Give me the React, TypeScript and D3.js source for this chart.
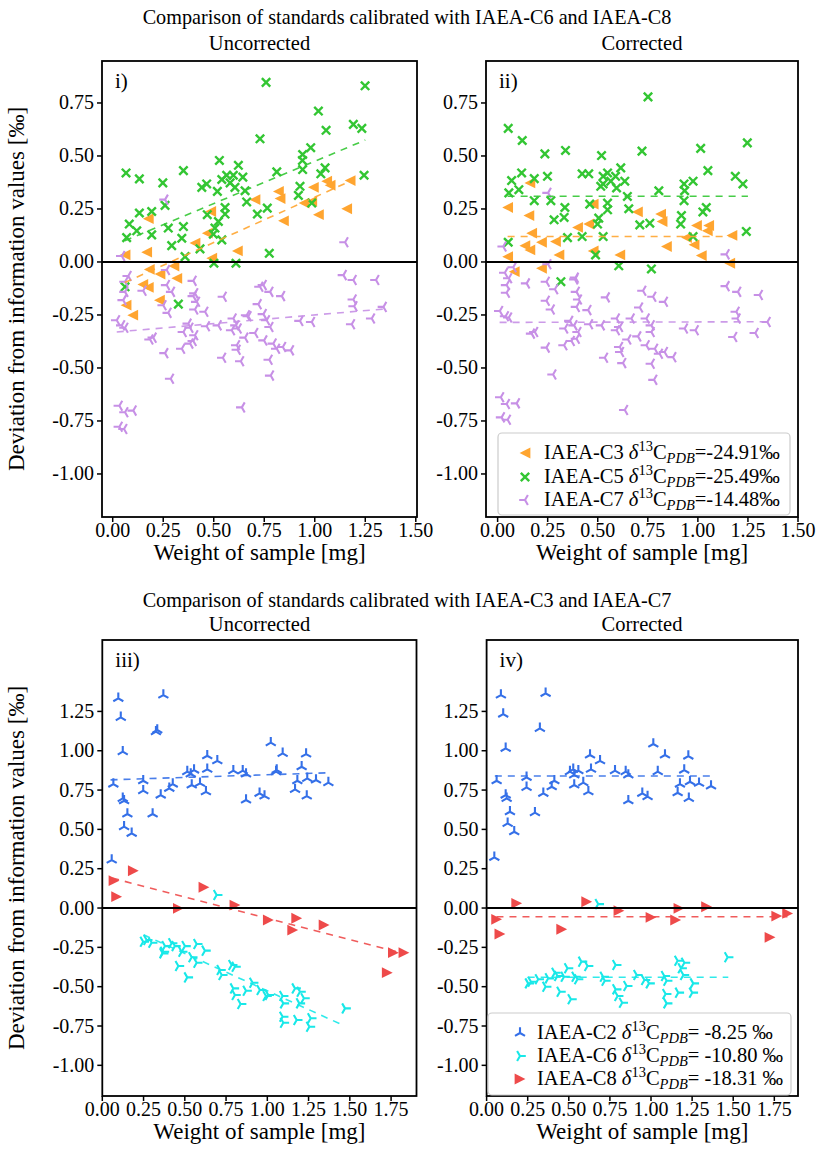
import * as d3 from 'd3';

const W = 817, H = 1157;
const FONT = '"Liberation Serif", "Times New Roman", serif';

type Pt = [number, number];

// ---------- upper row: standards calibrated with IAEA-C6 and IAEA-C8 ----------
const c3Uncorr: Pt[] = [
  [0.061, 0.033], [0.168, 0.046], [0.176, 0.204], [0.407, 0.089], [0.468, 0.136], [0.485, 0.238],
  [0.490, 0.018], [0.617, 0.052], [0.704, 0.294], [0.820, 0.333], [0.828, 0.299], [0.845, 0.194],
  [0.947, 0.278], [0.985, 0.286], [0.993, 0.352], [1.018, 0.223], [1.059, 0.381], [1.076, 0.362],
  [1.158, 0.251], [1.175, 0.384], [0.181, -0.035], [0.303, -0.019], [0.234, -0.057], [0.317, -0.077],
  [0.149, -0.106], [0.176, -0.120], [0.231, -0.180], [0.066, -0.204], [0.099, -0.251],
];
const c5Uncorr: Pt[] = [
  [0.759, 0.847], [1.249, 0.831], [1.018, 0.712], [1.056, 0.621], [1.191, 0.649], [1.233, 0.630],
  [0.729, 0.581], [0.940, 0.507], [0.980, 0.539], [0.939, 0.479], [0.940, 0.436], [1.051, 0.444],
  [1.030, 0.416], [1.244, 0.409], [0.812, 0.425], [0.066, 0.420], [0.132, 0.392], [0.248, 0.373],
  [0.350, 0.431], [0.528, 0.479], [0.622, 0.456], [0.441, 0.352], [0.465, 0.368], [0.540, 0.389],
  [0.564, 0.409], [0.597, 0.409], [0.644, 0.400], [0.581, 0.373], [0.518, 0.333], [0.655, 0.336],
  [0.605, 0.352], [0.663, 0.283], [0.556, 0.257], [0.556, 0.226], [0.765, 0.254], [0.716, 0.226],
  [0.927, 0.357], [0.919, 0.314], [0.985, 0.278], [0.259, 0.267], [0.132, 0.231], [0.193, 0.238],
  [0.082, 0.179], [0.119, 0.147], [0.069, 0.115], [0.193, 0.128], [0.275, 0.160], [0.350, 0.167],
  [0.342, 0.112], [0.292, 0.077], [0.468, 0.223], [0.523, 0.191], [0.506, 0.160], [0.540, 0.104],
  [0.498, 0.131], [0.432, 0.062], [0.358, 0.025], [0.501, -0.006], [0.610, -0.006], [0.775, 0.041],
  [0.325, -0.199], [0.061, -0.117],
];
const c7Uncorr: Pt[] = [
  [0.045, 0.028], [0.259, 0.294], [1.150, 0.093], [1.142, -0.062], [1.191, -0.085], [1.303, -0.085],
  [0.077, -0.066], [0.061, -0.093], [0.061, -0.141], [0.052, -0.180], [0.267, -0.038], [0.267, -0.109],
  [0.292, -0.141], [0.151, -0.136], [0.250, -0.204], [0.275, -0.240], [0.399, -0.089], [0.407, -0.148],
  [0.399, -0.161], [0.416, -0.188], [0.407, -0.224], [0.457, -0.235], [0.548, -0.164], [0.729, -0.117],
  [0.779, -0.141], [0.837, -0.161], [0.721, -0.199], [0.746, -0.246], [0.762, -0.275], [0.779, -0.307],
  [0.671, -0.256], [0.597, -0.267], [0.610, -0.299], [0.589, -0.322], [0.622, -0.314], [0.523, -0.299],
  [0.465, -0.303], [0.374, -0.291], [0.383, -0.310], [0.350, -0.330], [0.407, -0.346], [0.399, -0.373],
  [0.383, -0.385], [0.342, -0.409], [0.201, -0.357], [0.185, -0.366], [0.259, -0.430], [0.020, -0.275],
  [0.045, -0.299], [0.061, -0.310], [0.655, -0.357], [0.704, -0.335], [0.749, -0.370], [0.795, -0.385],
  [0.812, -0.409], [0.842, -0.401], [0.881, -0.417], [0.614, -0.393], [0.617, -0.414], [0.545, -0.452],
  [0.634, -0.468], [0.775, -0.461], [0.782, -0.536], [0.287, -0.551], [0.927, -0.278], [0.985, -0.283],
  [1.191, -0.177], [1.195, -0.209], [1.183, -0.294], [1.282, -0.267], [1.340, -0.212], [0.033, -0.678],
  [0.061, -0.709], [0.102, -0.701], [0.033, -0.777], [0.056, -0.788], [0.639, -0.686], [0.663, -0.251],
  [0.746, -0.109],
];
const c3Corr: Pt[] = [
  [0.050, 0.257], [0.161, 0.373], [0.156, 0.219], [0.170, 0.136], [0.136, 0.077], [0.161, 0.057],
  [0.219, 0.093], [0.289, 0.096], [0.306, 0.033], [0.050, 0.025], [0.399, 0.163], [0.455, 0.179],
  [0.477, 0.273], [0.477, 0.052], [0.610, 0.033], [0.698, 0.236], [0.814, 0.226], [0.821, 0.191],
  [0.843, 0.073], [0.943, 0.115], [0.981, 0.081], [0.993, 0.172], [1.054, 0.172], [1.047, 0.147],
  [1.017, 0.030], [1.170, 0.125], [1.159, -0.006], [0.083, -0.046], [0.219, -0.030],
];
const c5Corr: Pt[] = [
  [0.751, 0.779], [0.053, 0.630], [0.123, 0.573], [0.236, 0.510], [0.339, 0.526], [0.519, 0.502],
  [0.721, 0.523], [1.014, 0.536], [1.247, 0.562], [1.050, 0.431], [1.187, 0.404], [1.225, 0.368],
  [0.070, 0.384], [0.120, 0.420], [0.056, 0.326], [0.106, 0.341], [0.183, 0.393], [0.249, 0.404],
  [0.183, 0.289], [0.266, 0.289], [0.422, 0.416], [0.455, 0.416], [0.527, 0.404], [0.549, 0.420],
  [0.527, 0.368], [0.565, 0.381], [0.589, 0.404], [0.615, 0.444], [0.635, 0.381], [0.515, 0.357],
  [0.594, 0.349], [0.648, 0.309], [0.805, 0.336], [0.931, 0.368], [0.976, 0.381], [0.934, 0.336],
  [0.931, 0.289], [1.042, 0.257], [1.025, 0.236], [0.918, 0.219], [0.914, 0.179], [1.242, 0.144],
  [0.460, 0.273], [0.336, 0.257], [0.332, 0.210], [0.282, 0.199], [0.549, 0.278], [0.549, 0.246],
  [0.505, 0.207], [0.499, 0.179], [0.655, 0.251], [0.710, 0.175], [0.760, 0.183], [0.349, 0.115],
  [0.422, 0.120], [0.527, 0.120], [0.976, 0.120], [0.053, 0.093], [0.489, 0.033], [0.605, -0.018],
  [0.768, -0.033], [0.316, -0.093],
];
const c7Corr: Pt[] = [
  [0.028, 0.073], [0.252, 0.326], [1.142, 0.036], [0.252, -0.011], [0.389, -0.074], [0.078, -0.025],
  [0.036, -0.051], [0.056, -0.077], [0.045, -0.109], [0.045, -0.145], [0.145, -0.101], [0.244, -0.093],
  [0.286, -0.129], [0.244, -0.183], [0.269, -0.224], [0.386, -0.082], [0.394, -0.141], [0.405, -0.177],
  [0.394, -0.212], [0.452, -0.227], [0.544, -0.167], [0.011, -0.231], [0.040, -0.256], [0.056, -0.262],
  [0.726, -0.136], [0.776, -0.164], [0.834, -0.188], [0.710, -0.215], [0.743, -0.267], [0.768, -0.299],
  [0.768, -0.330], [0.668, -0.267], [0.594, -0.267], [0.610, -0.307], [0.594, -0.322], [0.519, -0.299],
  [0.460, -0.294], [0.361, -0.278], [0.382, -0.299], [0.336, -0.314], [0.402, -0.330], [0.394, -0.362],
  [0.369, -0.373], [0.332, -0.393], [0.186, -0.330], [0.170, -0.338], [0.244, -0.404], [0.651, -0.366],
  [0.701, -0.351], [0.743, -0.393], [0.785, -0.409], [0.809, -0.433], [0.834, -0.425], [0.876, -0.449],
  [0.610, -0.401], [0.615, -0.425], [0.535, -0.452], [0.626, -0.477], [0.768, -0.480], [0.781, -0.556],
  [0.277, -0.531], [0.934, -0.314], [0.988, -0.322], [1.142, -0.114], [1.200, -0.141], [1.308, -0.156],
  [1.192, -0.235], [1.197, -0.267], [1.180, -0.354], [1.287, -0.335], [1.347, -0.283], [0.016, -0.638],
  [0.045, -0.670], [0.095, -0.667], [0.020, -0.733], [0.050, -0.744], [0.635, -0.698],
];
// dashed fit lines, end points
const fitC3Uncorr: Pt[] = [[0.06, -0.097], [1.18, 0.383]];
const fitC5Uncorr: Pt[] = [[0.06, 0.10], [1.25, 0.575]];
const fitC7Uncorr: Pt[] = [[0.02, -0.33], [1.34, -0.222]];
const fitC3Corr: Pt[] = [[0.05, 0.12], [1.17, 0.12]];
const fitC5Corr: Pt[] = [[0.05, 0.31], [1.25, 0.31]];
const fitC7Corr: Pt[] = [[0.01, -0.285], [1.35, -0.282]];

// ---------- lower row: standards calibrated with IAEA-C3 and IAEA-C7 ----------
const c2Uncorr: Pt[] = [
  [0.097, 1.333], [0.370, 1.354], [0.112, 1.212], [0.333, 1.132], [0.325, 1.121], [0.124, 0.994],
  [1.021, 1.051], [1.093, 0.983], [1.235, 0.979], [0.636, 0.968], [0.697, 0.936], [0.636, 0.882],
  [0.515, 0.867], [0.556, 0.877], [0.536, 0.852], [0.794, 0.873], [0.851, 0.873], [0.871, 0.852],
  [1.057, 0.877], [1.208, 0.898], [0.067, 0.788], [0.248, 0.809], [0.248, 0.746], [0.427, 0.788],
  [0.406, 0.761], [0.542, 0.782], [0.592, 0.793], [0.628, 0.739], [0.124, 0.697], [0.132, 0.682],
  [0.354, 0.718], [0.152, 0.598], [0.305, 0.598], [0.132, 0.517], [0.178, 0.475], [0.057, 0.305],
  [0.871, 0.687], [0.953, 0.729], [0.983, 0.712], [1.182, 0.809], [1.168, 0.754], [1.242, 0.824],
  [1.295, 0.814], [1.370, 0.797], [1.239, 0.712], [1.053, 0.867],
];
const c6Uncorr: Pt[] = [
  [0.693, 0.083], [0.269, -0.203], [0.299, -0.221], [0.248, -0.214], [0.380, -0.242], [0.420, -0.224],
  [0.440, -0.242], [0.370, -0.278], [0.501, -0.242], [0.481, -0.278], [0.572, -0.229], [0.622, -0.271],
  [0.542, -0.313], [0.572, -0.348], [0.461, -0.369], [0.515, -0.441], [0.713, -0.394], [0.784, -0.362],
  [0.804, -0.373], [0.724, -0.426], [0.794, -0.511], [0.804, -0.553], [0.838, -0.610], [0.871, -0.526],
  [0.911, -0.475], [0.955, -0.521], [0.992, -0.559], [1.006, -0.553], [1.093, -0.559], [1.097, -0.606],
  [1.168, -0.511], [1.198, -0.532], [1.222, -0.574], [1.194, -0.606], [1.093, -0.691], [1.097, -0.729],
  [1.178, -0.712], [1.263, -0.701], [1.255, -0.755], [1.471, -0.638], [0.366, -0.288],
];
const c8Uncorr: Pt[] = [
  [0.188, 0.237], [0.071, 0.174], [0.087, 0.072], [0.616, 0.132], [0.461, -0.002], [0.804, 0.019],
  [1.006, -0.076], [1.178, -0.065], [1.154, -0.140], [1.344, -0.108], [1.764, -0.284], [1.828, -0.284],
  [1.727, -0.411],
];
const c2Corr: Pt[] = [
  [0.087, 1.354], [0.359, 1.365], [0.101, 1.233], [0.324, 1.142], [0.116, 1.015], [1.014, 1.043],
  [1.085, 0.973], [1.227, 0.966], [0.629, 0.973], [0.690, 0.936], [0.635, 0.882], [0.507, 0.867],
  [0.527, 0.882], [0.558, 0.873], [0.533, 0.846], [0.781, 0.873], [0.846, 0.867], [0.862, 0.846],
  [1.041, 0.867], [1.202, 0.877], [0.061, 0.809], [0.243, 0.831], [0.243, 0.767], [0.412, 0.809],
  [0.396, 0.771], [0.533, 0.782], [0.588, 0.797], [0.619, 0.739], [0.116, 0.718], [0.122, 0.697],
  [0.345, 0.729], [0.142, 0.612], [0.294, 0.606], [0.128, 0.538], [0.168, 0.485], [0.047, 0.322],
  [0.862, 0.682], [0.947, 0.729], [0.979, 0.708], [1.176, 0.788], [1.162, 0.733], [1.237, 0.803],
  [1.292, 0.793], [1.365, 0.776], [1.230, 0.697],
];
const c6Corr: Pt[] = [
  [0.679, 0.025], [0.270, -0.469], [0.253, -0.479], [0.359, -0.500], [0.375, -0.447], [0.415, -0.411],
  [0.431, -0.432], [0.492, -0.383], [0.471, -0.437], [0.577, -0.341], [0.614, -0.369], [0.537, -0.437],
  [0.553, -0.453], [0.446, -0.532], [0.513, -0.580], [0.785, -0.362], [0.709, -0.437], [0.719, -0.462],
  [0.785, -0.517], [0.797, -0.559], [0.825, -0.602], [0.852, -0.496], [0.913, -0.426], [0.960, -0.458],
  [0.988, -0.479], [1.081, -0.432], [1.095, -0.462], [1.089, -0.547], [1.095, -0.606], [1.162, -0.335],
  [1.203, -0.348], [1.183, -0.383], [1.197, -0.426], [1.257, -0.479], [1.251, -0.538], [1.166, -0.538],
  [1.466, -0.313], [0.314, -0.453],
];
const c8Corr: Pt[] = [
  [0.183, 0.030], [0.061, -0.072], [0.081, -0.165], [0.609, 0.040], [0.457, -0.135], [0.805, -0.017],
  [1.000, -0.059], [1.170, -0.002], [1.150, -0.076], [1.338, 0.008], [1.765, -0.051], [1.831, -0.034],
  [1.724, -0.186],
];
const fitC2Uncorr: Pt[] = [[0.05, 0.815], [1.37, 0.86]];
const fitC6Uncorr: Pt[] = [[0.25, -0.17], [1.47, -0.75]];
const fitC8Uncorr: Pt[] = [[0.06, 0.19], [1.83, -0.29]];
const fitC2Corr: Pt[] = [[0.05, 0.839], [1.37, 0.839]];
const fitC6Corr: Pt[] = [[0.25, -0.44], [1.47, -0.44]];
const fitC8Corr: Pt[] = [[0.06, -0.055], [1.83, -0.055]];

const topYTicks = [-1, -0.75, -0.5, -0.25, 0, 0.25, 0.5, 0.75];
const botYTicks = [-1, -0.75, -0.5, -0.25, 0, 0.25, 0.5, 0.75, 1, 1.25];
const topXTicks = [0, 0.25, 0.5, 0.75, 1, 1.25, 1.5];
const botXTicks = [0, 0.25, 0.5, 0.75, 1, 1.25, 1.5, 1.75];

const topLegend = [
  { name: 'IAEA-C3', value: '=-24.91\u2030' },
  { name: 'IAEA-C5', value: '=-25.49\u2030' },
  { name: 'IAEA-C7', value: '=-14.48\u2030' },
];
const botLegend = [
  { name: 'IAEA-C2', value: '= -8.25 \u2030' },
  { name: 'IAEA-C6', value: '= -10.80 \u2030' },
  { name: 'IAEA-C8', value: '= -18.31 \u2030' },
];

const ORANGE = '#ffa530', GREEN = '#33c633', PURPLE = '#c790e6';
const BLUE = '#3570e8', CYAN = '#18e8e8', RED = '#ee4a4a';

type Kind = 'triL' | 'triR' | 'x' | 'y2' | 'y3' | 'y4';

function markerPath(kind: Kind) {
  const r = 5.4, a = 5.8;
  const c = 0.866, s = 0.5;
  switch (kind) {
    case 'triL': return `M${-r},0L${r},${-r}L${r},${r}Z`;
    case 'triR': return `M${r},0L${-r},${-r}L${-r},${r}Z`;
    case 'x': return 'M-4.2,-4.2L4.2,4.2M-4.2,4.2L4.2,-4.2';
    case 'y2': return `M0,0L0,${-a}M0,0L${-c * a},${s * a}M0,0L${c * a},${s * a}`;
    case 'y3': return `M0,0L${-a},0M0,0L${s * a},${-c * a}M0,0L${s * a},${c * a}`;
    default: return `M0,0L${a},0M0,0L${-s * a},${-c * a}M0,0L${-s * a},${c * a}`;
  }
}

function Marker({ kind, color, x, y }: { kind: Kind; color: string; x: number; y: number }) {
  const filled = kind === 'triL' || kind === 'triR';
  return (
    <path
      d={markerPath(kind)}
      transform={`translate(${x},${y})`}
      fill={filled ? color : 'none'}
      stroke={filled ? 'none' : color}
      strokeWidth={kind === 'x' ? 2.4 : 2.1}
    />
  );
}

type Series = { pts: Pt[]; fit: Pt[]; kind: Kind; color: string };

type PanelProps = {
  x0: number; x1: number; y0: number; y1: number;
  xDom: [number, number]; yDom: [number, number];
  xTicks: number[]; yTicks: number[];
  tag: string; series: Series[]; ylabel: boolean;
  legend?: { rows: { name: string; value: string }[]; box: [number, number, number, number]; rowY: number[]; mx: number; tx: number };
};

function Panel(p: PanelProps) {
  const xs = d3.scaleLinear().domain(p.xDom).range([p.x0, p.x1]);
  const ys = d3.scaleLinear().domain(p.yDom).range([p.y1, p.y0]);
  const line = d3.line<Pt>().x(d => xs(d[0])).y(d => ys(d[1]));
  const clipId = `clip-${p.tag.replace(')', '')}`;
  return (
    <g>
      <clipPath id={clipId}>
        <rect x={p.x0} y={p.y0} width={p.x1 - p.x0} height={p.y1 - p.y0} />
      </clipPath>
      <g clipPath={`url(#${clipId})`}>
        {p.series.map((s, i) => (
          <g key={i}>
            {s.pts.map((d, j) => <Marker key={j} kind={s.kind} color={s.color} x={xs(d[0])} y={ys(d[1])} />)}
          </g>
        ))}
        {p.series.map((s, i) => (
          <path key={'f' + i} d={line(s.fit) || ''} fill="none" stroke={s.color} strokeWidth={1.6} strokeDasharray="7,6" opacity={0.9} />
        ))}
        <line x1={p.x0} x2={p.x1} y1={ys(0)} y2={ys(0)} stroke="#000" strokeWidth={2} />
      </g>
      <rect x={p.x0} y={p.y0} width={p.x1 - p.x0} height={p.y1 - p.y0} fill="none" stroke="#000" strokeWidth={1.8} />
      {p.xTicks.map(t => (
        <g key={'xt' + t}>
          <line x1={xs(t)} x2={xs(t)} y1={p.y1} y2={p.y1 + 5} stroke="#000" strokeWidth={1.5} />
          <text x={xs(t)} y={p.y1 + 20} textAnchor="middle" fontSize={20} fontFamily={FONT}>{t.toFixed(2)}</text>
        </g>
      ))}
      {p.yTicks.map(t => (
        <g key={'yt' + t}>
          <line x1={p.x0 - 5} x2={p.x0} y1={ys(t)} y2={ys(t)} stroke="#000" strokeWidth={1.5} />
          <text x={p.x0 - 8} y={ys(t) + 6.5} textAnchor="end" fontSize={20} fontFamily={FONT}>{t.toFixed(2)}</text>
        </g>
      ))}
      <text x={(p.x0 + p.x1) / 2} y={p.y1 + 43} textAnchor="middle" fontSize={23} fontFamily={FONT}>Weight of sample [mg]</text>
      {p.ylabel && (
        <text transform={`translate(24,${(p.y0 + p.y1) / 2}) rotate(-90)`} textAnchor="middle" fontSize={23} fontFamily={FONT}>
          Deviation from information values [‰]
        </text>
      )}
      <text x={p.x0 + 13} y={p.y0 + 27} fontSize={21} fontFamily={FONT}>{p.tag}</text>
      {p.legend && (
        <g>
          <rect x={p.legend.box[0]} y={p.legend.box[1]} width={p.legend.box[2]} height={p.legend.box[3]} rx={4}
            fill="#fff" fillOpacity={0.85} stroke="#cccccc" strokeWidth={1.2} />
          {p.legend.rows.map((r, i) => (
            <g key={'lg' + i}>
              <Marker kind={p.series[i].kind} color={p.series[i].color} x={p.legend!.mx} y={p.legend!.rowY[i] - 6} />
              <text x={p.legend!.tx} y={p.legend!.rowY[i]} fontSize={20.5} fontFamily={FONT}>
                {r.name + ' '}
                <tspan fontStyle="italic">δ</tspan>
                <tspan dy={-8} fontSize={14.5}>13</tspan>
                <tspan dy={8}>C</tspan>
                <tspan dy={4} fontSize={14.5} fontStyle="italic">PDB</tspan>
                <tspan dy={-4}>{r.value}</tspan>
              </text>
            </g>
          ))}
        </g>
      )}
    </g>
  );
}

export default function App() {
  const topDomY: [number, number] = [-1.203, 0.948];
  const botDomY: [number, number] = [-1.195, 1.704];
  return (
    <svg width={W} height={H} viewBox={`0 0 ${W} ${H}`}
      style={{ display: 'block', background: '#fff', position: 'absolute', left: 0, top: 0 }}>
      <text x={407} y={24} textAnchor="middle" fontSize={20.2} fontFamily={FONT}>Comparison of standards calibrated with IAEA-C6 and IAEA-C8</text>
      <text x={259.5} y={50} textAnchor="middle" fontSize={20.5} fontFamily={FONT}>Uncorrected</text>
      <text x={642} y={50} textAnchor="middle" fontSize={20.5} fontFamily={FONT}>Corrected</text>
      <Panel x0={102} x1={417} y0={61} y1={517} xDom={[-0.053, 1.506]} yDom={topDomY}
        xTicks={topXTicks} yTicks={topYTicks} tag="i)" ylabel
        series={[
          { pts: c3Uncorr, fit: fitC3Uncorr, kind: 'triL', color: ORANGE },
          { pts: c5Uncorr, fit: fitC5Uncorr, kind: 'x', color: GREEN },
          { pts: c7Uncorr, fit: fitC7Uncorr, kind: 'y3', color: PURPLE },
        ]} />
      <Panel x0={486} x1={798} y0={61} y1={517} xDom={[-0.058, 1.5]} yDom={topDomY}
        xTicks={topXTicks} yTicks={topYTicks} tag="ii)" ylabel={false}
        series={[
          { pts: c3Corr, fit: fitC3Corr, kind: 'triL', color: ORANGE },
          { pts: c5Corr, fit: fitC5Corr, kind: 'x', color: GREEN },
          { pts: c7Corr, fit: fitC7Corr, kind: 'y3', color: PURPLE },
        ]}
        legend={{ rows: topLegend, box: [498, 433, 292, 82], rowY: [459, 483, 506], mx: 525, tx: 544 }} />

      <text x={407} y={607} textAnchor="middle" fontSize={20.2} fontFamily={FONT}>Comparison of standards calibrated with IAEA-C3 and IAEA-C7</text>
      <text x={259.5} y={631} textAnchor="middle" fontSize={20.5} fontFamily={FONT}>Uncorrected</text>
      <text x={642} y={631} textAnchor="middle" fontSize={20.5} fontFamily={FONT}>Corrected</text>
      <Panel x0={102.3} x1={416.5} y0={640} y1={1096} xDom={[0, 1.904]} yDom={botDomY}
        xTicks={botXTicks} yTicks={botYTicks} tag="iii)" ylabel
        series={[
          { pts: c2Uncorr, fit: fitC2Uncorr, kind: 'y2', color: BLUE },
          { pts: c6Uncorr, fit: fitC6Uncorr, kind: 'y4', color: CYAN },
          { pts: c8Uncorr, fit: fitC8Uncorr, kind: 'triR', color: RED },
        ]} />
      <Panel x0={486.6} x1={798} y0={640} y1={1096} xDom={[0, 1.894]} yDom={botDomY}
        xTicks={botXTicks} yTicks={botYTicks} tag="iv)" ylabel={false}
        series={[
          { pts: c2Corr, fit: fitC2Corr, kind: 'y2', color: BLUE },
          { pts: c6Corr, fit: fitC6Corr, kind: 'y4', color: CYAN },
          { pts: c8Corr, fit: fitC8Corr, kind: 'triR', color: RED },
        ]}
        legend={{ rows: botLegend, box: [488, 1013, 303, 82], rowY: [1039, 1062, 1085], mx: 520, tx: 537 }} />
    </svg>
  );
}
